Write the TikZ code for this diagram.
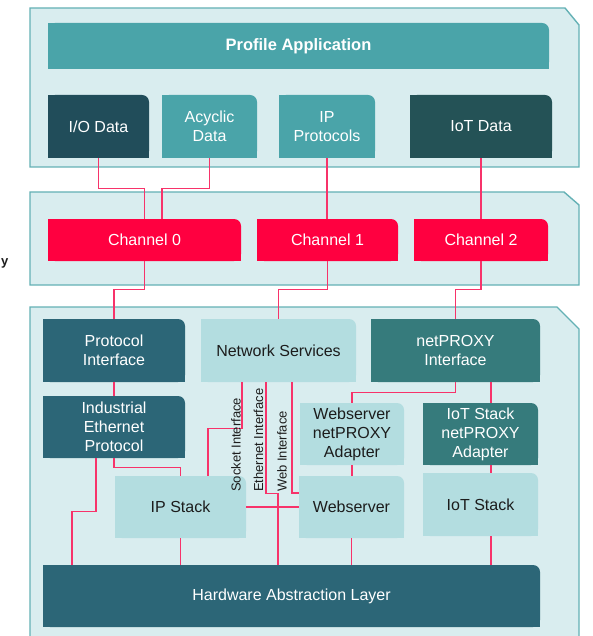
\documentclass[tikz,border=0pt]{standalone}
\usepackage{fontspec}
\setmainfont{Liberation Sans}
\usetikzlibrary{calc}
\definecolor{panelfill}{HTML}{D9EDEF}
\definecolor{panelline}{HTML}{64B1B5}
\definecolor{midteal}{HTML}{4AA4A9}
\definecolor{darkio}{HTML}{214D5A}
\definecolor{darkiot}{HTML}{245256}
\definecolor{slate}{HTML}{2C6677}
\definecolor{proxy}{HTML}{367B7C}
\definecolor{lightbox}{HTML}{B3DDE0}
\definecolor{chred}{HTML}{FF0040}
\definecolor{wirec}{HTML}{F7336A}
\definecolor{darktext}{HTML}{1C1C1C}
\tikzset{
 panel/.style={fill=panelfill, draw=panelline, line width=1.4pt},
 boxtext/.style={inner sep=0pt, align=center, font=\fontsize{16}{19}\selectfont},
 wire/.style={draw=wirec, line width=1.2pt},
 iflabel/.style={inner sep=0pt, rotate=90, anchor=west, text=darktext, font=\fontsize{13}{15}\selectfont},
}
\newcommand\bx[8]{%
 \fill[#6,rounded corners=7pt] (#2,#3) rectangle (#4,#5);
 \fill[#6] (#2,#3) rectangle ({#4-7},#5);
 \fill[#6] (#2,{#3+7}) rectangle (#4,#5);
 \node[boxtext,text=#7,minimum width={#4pt-#2pt},minimum height={#5pt-#3pt}] (#1) at ({(#2+#4)/2},{(#3+#5)/2}) {#8};
}
\begin{document}
\begin{tikzpicture}[x=1pt,y=-1pt]
\clip (0,0) rectangle (592,636);
\fill[white] (0,0) rectangle (592,636);
% panels
\draw[panel] (30,8) -- (565,8) -- (579,25) -- (579,167) -- (30,167) -- cycle;
\draw[panel] (30,192) -- (564,192) -- (579,205) -- (579,285) -- (30,285) -- cycle;
\draw[panel] (30,307) -- (557,307) -- (579,329) -- (579,645) -- (30,645) -- cycle;
% boxes
\bx{pa}{48}{23}{549}{69}{midteal}{white}{\fontsize{16.5}{19}\selectfont\bfseries Profile Application}
\bx{io}{48}{95}{149}{158}{darkio}{white}{I/O Data}
\bx{acy}{162}{95}{257}{158}{midteal}{white}{Acyclic\\Data}
\bx{ipp}{279}{95}{375}{158}{midteal}{white}{IP\\Protocols}
\bx{iot}{410}{95}{552}{158}{darkiot}{white}{IoT Data}
\bx{ch0}{48}{219}{241}{261}{chred}{white}{Channel 0}
\bx{ch1}{257}{219}{398}{261}{chred}{white}{Channel 1}
\bx{ch2}{414}{219}{548}{261}{chred}{white}{Channel 2}
\bx{pi}{43}{319}{185}{382}{slate}{white}{Protocol\\Interface}
\bx{ns}{201}{319}{356}{382}{lightbox}{darktext}{Network Services}
\bx{npi}{371}{319}{540}{382}{proxy}{white}{netPROXY\\Interface}
\bx{iep}{43}{396}{185}{458}{slate}{white}{Industrial\\Ethernet\\Protocol}
\bx{wsa}{300}{403}{404}{465}{lightbox}{darktext}{Webserver\\netPROXY\\Adapter}
\bx{isa}{423}{403}{538}{465}{proxy}{white}{IoT Stack\\netPROXY\\Adapter}
\bx{ips}{115}{476}{246}{538}{lightbox}{darktext}{IP Stack}
\bx{ws}{299}{476}{404}{538}{lightbox}{darktext}{Webserver}
\bx{ist}{423}{473}{538}{536}{lightbox}{darktext}{IoT Stack}
\bx{hal}{43}{565}{540}{627}{slate}{white}{Hardware Abstraction Layer}
% wires
\draw[wire] (io.south) -- ++(0,30) -| (ch0.north);
\draw[wire] (acy.south) -- ++(0,30) -| ([xshift=17.5pt]ch0.north);
\draw[wire] (ipp.south) -- (ipp.south |- ch1.north);
\draw[wire] (iot.south) -- (ch2.north);
\draw[wire] (ch0.south) -- ++(0,28) -| (pi.north);
\draw[wire] (ch1.south) -- ++(0,28) -| (ns.north);
\draw[wire] (ch2.south) -- ++(0,28) -| (npi.north);
\draw[wire] (pi.south) -- (iep.north);
\draw[wire] (iep.south) -- ++(0,9) -| (ips.north);
\draw[wire] ([xshift=-18pt]iep.south) -- ++(0,53) -| ([xshift=-219.5pt]hal.north);
\draw[wire] ([xshift=-36.5pt]ns.south) -- ++(0,46) -| ([xshift=27.5pt]ips.north);
\draw[wire] ([xshift=-12.5pt]ns.south) -- ++(0,111) -| ([xshift=-13.5pt]hal.north);
\draw[wire] ([xshift=13.5pt]ns.south) |- ([yshift=14pt]ws.west);
\draw[wire] (ips.east) -- (ws.west);
\draw[wire] (npi.south) -- ++(0,10) -| (wsa.north);
\draw[wire] ([xshift=35.5pt]npi.south) -- ([xshift=10.5pt]isa.north);
\draw[wire] (wsa.south) -- (wsa.south |- ws.north);
\draw[wire] ([xshift=10.5pt]isa.south) -- ([xshift=10.5pt]ist.north);
\draw[wire] (ips.south) -- (ips.south |- hal.north);
\draw[wire] (ws.south) -- (ws.south |- hal.north);
\draw[wire] ([xshift=10.5pt]ist.south) -- ++(0,29);
% interface labels
\node[iflabel] (sock) at (236,492) {Socket Interface};
\node[iflabel] (eth) at (258.5,492) {Ethernet Interface};
\node[iflabel] (web) at (282,492) {Web Interface};
% cut-off side label
\node[inner sep=0pt, anchor=east, text=darktext, font=\bfseries\fontsize{13}{15}\selectfont] (ylab) at (8.5,263) {y};
\end{tikzpicture}
\end{document}
